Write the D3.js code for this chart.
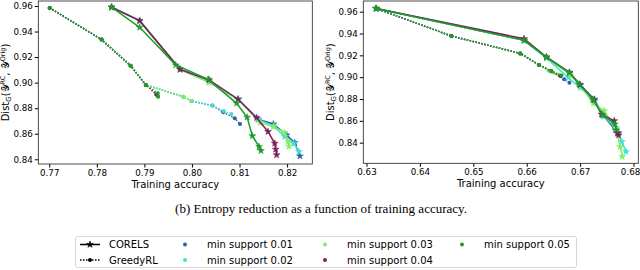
<!DOCTYPE html>
<html>
<head>
<meta charset="utf-8">
<script src="https://cdn.jsdelivr.net/npm/d3@7"></script>
<style>
  body { margin: 0; background: #fff; }
  svg text { font-family: "DejaVu Sans", sans-serif; }
  .tick text { font-size: 8.7px; fill: #000; }
  .xlabel, .ylabel { font-size: 10px; }
  .caption { font-family: "Liberation Serif", "Times New Roman", serif !important; font-size: 13px; }
  .leg { font-size: 10px; }
</style>
</head>
<body>
<svg id="chart" width="640" height="270"></svg>
<script>
const supports = ["0.01", "0.02", "0.03", "0.04", "0.05"];
const colors = ["#2f5eab", "#3fe0d0", "#7ef060", "#7b1e5b", "#1f9a2a"];

const xTicksLeft = [0.77, 0.78, 0.79, 0.80, 0.81, 0.82];
const xTicksRight = [0.63, 0.64, 0.65, 0.66, 0.67, 0.68];
const yTicks = [0.84, 0.86, 0.88, 0.90, 0.92, 0.94, 0.96];

// left panel, [training accuracy, dist]
const leftCorels = [
    [[0.7831,0.959],[0.7890,0.9485],[0.7975,0.9104],[0.8036,0.9005],[0.8097,0.887],[0.8139,0.8713],[0.8171,0.8676],[0.8199,0.859],[0.8216,0.853],[0.8227,0.8425]],
    [[0.7831,0.959],[0.7890,0.9485],[0.7975,0.9104],[0.8036,0.9005],[0.8097,0.887],[0.8139,0.8713],[0.8171,0.866],[0.8195,0.8577],[0.8214,0.8525],[0.8225,0.846]],
    [[0.7831,0.959],[0.7890,0.9485],[0.7975,0.9104],[0.8036,0.9005],[0.8097,0.887],[0.8143,0.8687],[0.8172,0.8655],[0.8195,0.8608],[0.8202,0.8538],[0.8204,0.850]],
    [[0.7831,0.959],[0.7890,0.9485],[0.7975,0.9104],[0.8036,0.9021],[0.8097,0.887],[0.8136,0.8725],[0.8160,0.8616],[0.8174,0.8525],[0.8176,0.8478],[0.8178,0.8434]],
    [[0.7831,0.959],[0.7890,0.9433],[0.7966,0.9138],[0.8034,0.9026],[0.8094,0.8838],[0.8116,0.8729],[0.8127,0.8583],[0.8141,0.8499],[0.8145,0.8467]]
];
const leftGreedy = [
    [[0.7701,0.9585],[0.7810,0.9337],[0.7871,0.9133],[0.7903,0.8982],[0.7982,0.889],[0.7999,0.8856],[0.8043,0.882],[0.8066,0.8768],[0.8090,0.8721],[0.8101,0.8676]],
    [[0.7701,0.9585],[0.7810,0.9337],[0.7871,0.9133],[0.7903,0.8982],[0.7982,0.889],[0.7999,0.8856],[0.8043,0.882],[0.8067,0.8778],[0.8083,0.8755]],
    [[0.7701,0.9585],[0.7810,0.9337],[0.7871,0.9133],[0.7903,0.8982],[0.7982,0.889],[0.7999,0.8856]],
    [[0.7701,0.9585],[0.7810,0.9337],[0.7871,0.9133],[0.7903,0.8982],[0.7925,0.8908],[0.7928,0.8895]],
    [[0.7701,0.9585],[0.7810,0.9337],[0.7871,0.9133],[0.7903,0.8982],[0.7928,0.8917],[0.7929,0.889]]
];

// right panel
const rightCorels = [
    [[0.6318,0.963],[0.6595,0.9338],[0.6637,0.9182],[0.6680,0.9035],[0.6700,0.8930],[0.6727,0.8797],[0.6743,0.8650],[0.6766,0.8516],[0.6772,0.8490]],
    [[0.6318,0.963],[0.6595,0.9338],[0.6637,0.9175],[0.6678,0.8995],[0.6700,0.8905],[0.6728,0.8780],[0.6745,0.8640],[0.6766,0.8540],[0.6778,0.8410],[0.6786,0.8318]],
    [[0.6318,0.963],[0.6595,0.9338],[0.6637,0.9180],[0.6682,0.9020],[0.6700,0.8925],[0.6725,0.8760],[0.6745,0.8693],[0.6768,0.8530],[0.6775,0.8363],[0.6779,0.8272]],
    [[0.6318,0.963],[0.6595,0.9352],[0.6637,0.9185],[0.6680,0.9045],[0.6700,0.8930],[0.6726,0.8790],[0.6740,0.8660],[0.6764,0.8600],[0.6770,0.8486],[0.6772,0.8470]],
    [[0.6318,0.963],[0.6595,0.9338],[0.6637,0.9182],[0.6680,0.9041],[0.6698,0.8937],[0.6724,0.8797],[0.6742,0.8653],[0.6765,0.8571],[0.6768,0.8516]]
];
const rightGreedy = [
    [[0.6318,0.963],[0.6459,0.9377],[0.6588,0.9218],[0.6623,0.9112],[0.6646,0.9055],[0.6670,0.8980],[0.6680,0.8950]],
    [[0.6318,0.963],[0.6459,0.9377],[0.6588,0.9218],[0.6623,0.9112],[0.6646,0.9052],[0.6662,0.9020]],
    [[0.6318,0.963],[0.6459,0.9377],[0.6588,0.9218],[0.6623,0.9112],[0.6641,0.9058],[0.6650,0.9041],[0.6660,0.9025]],
    [[0.6318,0.963],[0.6459,0.9377],[0.6588,0.9218],[0.6623,0.9112],[0.6646,0.9056],[0.6663,0.9010]],
    [[0.6318,0.963],[0.6459,0.9377],[0.6588,0.9218],[0.6623,0.9112],[0.6646,0.9056],[0.6665,0.9016]]
];

const svg = d3.select('#chart');
const star = d3.symbol().type(d3.symbolStar).size(14);

function drawPanel(box, xDomain, yDomain, xTicks, corels, greedy){
    const width = box.w, height = box.h;
    const g = svg.append('g')
        .attr('transform', `translate(${box.x}, ${box.y})`);

    const xScale = d3.scaleLinear().domain(xDomain).range([0, width]);
    const yScale = d3.scaleLinear().domain(yDomain).range([height, 0]);

    const xAxis = g.append('g')
        .attr('transform', `translate(0, ${height})`)
        .call(d3.axisBottom(xScale).tickValues(xTicks).tickFormat(d3.format('.2f')).tickSize(3.5).tickPadding(2))
        .call(a => a.select('.domain').remove());
    // keep the last label inside the page
    xAxis.selectAll('.tick text')
        .attr('dx', d => (box.x + xScale(d) + 10 > 640 ? 640 - (box.x + xScale(d) + 10) : 0));

    g.append('g')
        .call(d3.axisLeft(yScale).tickValues(yTicks).tickFormat(d3.format('.2f')).tickSize(3.5).tickPadding(2))
        .call(a => a.select('.domain').remove());

    const line = d3.line().x(d => xScale(d[0])).y(d => yScale(d[1]));

    supports.forEach((s, i) => {
        const c = colors[i];
        g.append('path')
            .datum(corels[i])
            .attr('d', line)
            .attr('fill', 'none')
            .attr('stroke', c)
            .attr('stroke-width', 1.5);
        g.selectAll(null)
            .data(corels[i])
            .enter()
            .append('path')
            .attr('d', star)
            .attr('transform', d => `translate(${xScale(d[0])}, ${yScale(d[1])})`)
            .attr('fill', c)
            .attr('stroke', c)
            .attr('stroke-width', 0.6);

        g.append('path')
            .datum(greedy[i])
            .attr('d', line)
            .attr('fill', 'none')
            .attr('stroke', c)
            .attr('stroke-width', 1.5)
            .attr('stroke-dasharray', '1.5,1.5');
        g.selectAll(null)
            .data(greedy[i])
            .enter()
            .append('circle')
            .attr('cx', d => xScale(d[0]))
            .attr('cy', d => yScale(d[1]))
            .attr('r', 2)
            .attr('fill', c);
    });

    // frame
    g.append('rect')
        .attr('width', width)
        .attr('height', height)
        .attr('fill', 'none')
        .attr('stroke', '#222')
        .attr('stroke-width', 0.8);

    g.append('text')
        .attr('class', 'xlabel')
        .attr('x', width / 2)
        .attr('y', height + 24)
        .attr('text-anchor', 'middle')
        .text('Training accuracy');

    const yl = g.append('text')
        .attr('class', 'ylabel')
        .attr('transform', `translate(-29, ${height / 2}) rotate(-90)`)
        .attr('text-anchor', 'middle');
    yl.append('tspan').text('Dist');
    yl.append('tspan').attr('font-size', '7px').attr('dy', 2).text('G');
    yl.append('tspan').attr('dy', -2).text('(𝒴');
    yl.append('tspan').attr('font-size', '6.5px').attr('dy', -4).text('RC');
    yl.append('tspan').attr('dy', 4).text(', 𝒴');
    yl.append('tspan').attr('font-size', '6.5px').attr('dy', -4).text('Orig');
    yl.append('tspan').attr('dy', 4).text(')');
}

drawPanel({x: 38.3, y: 1, w: 274, h: 163}, [0.7677, 0.8253], [0.8363, 0.9639], xTicksLeft, leftCorels, leftGreedy);
drawPanel({x: 363.3, y: 1, w: 275, h: 162.3}, [0.6294, 0.6809], [0.8211, 0.9698], xTicksRight, rightCorels, rightGreedy);

svg.append('text')
    .attr('class', 'caption')
    .attr('x', 321)
    .attr('y', 213)
    .attr('text-anchor', 'middle')
    .text('(b) Entropy reduction as a function of training accuracy.');

// legend
const leg = svg.append('g');
leg.append('rect')
    .attr('x', 75.5).attr('y', 236.5)
    .attr('width', 501).attr('height', 31)
    .attr('rx', 2)
    .attr('fill', '#fff')
    .attr('stroke', '#ccc')
    .attr('stroke-width', 0.8);

const methods = ['CORELS', 'GreedyRL'];
methods.forEach((m, i) => {
    const yy = 244.5 + i * 15.5;
    leg.append('line')
        .attr('x1', 80).attr('x2', 100)
        .attr('y1', yy).attr('y2', yy)
        .attr('stroke', '#000')
        .attr('stroke-width', 1.5)
        .attr('stroke-dasharray', i ? '1.5,1.5' : null);
    if (i === 0) {
        leg.append('path').attr('d', star).attr('transform', `translate(90, ${yy})`)
            .attr('fill', '#000').attr('stroke', '#000').attr('stroke-width', 0.6);
    } else {
        leg.append('circle').attr('cx', 90).attr('cy', yy).attr('r', 2).attr('fill', '#000');
    }
    leg.append('text')
        .attr('class', 'leg')
        .attr('x', 109).attr('y', yy + 3.5)
        .text(m);
});

const colX = [185, 325, 462];
supports.forEach((s, i) => {
    const col = Math.floor(i / 2), row = i % 2;
    const yy = 244.5 + row * 15.5;
    leg.append('circle')
        .attr('cx', colX[col]).attr('cy', yy)
        .attr('r', 2)
        .attr('fill', colors[i]);
    leg.append('text')
        .attr('class', 'leg')
        .attr('x', colX[col] + 22).attr('y', yy + 3.5)
        .text(`min support ${s}`);
});
</script>
</body>
</html>
